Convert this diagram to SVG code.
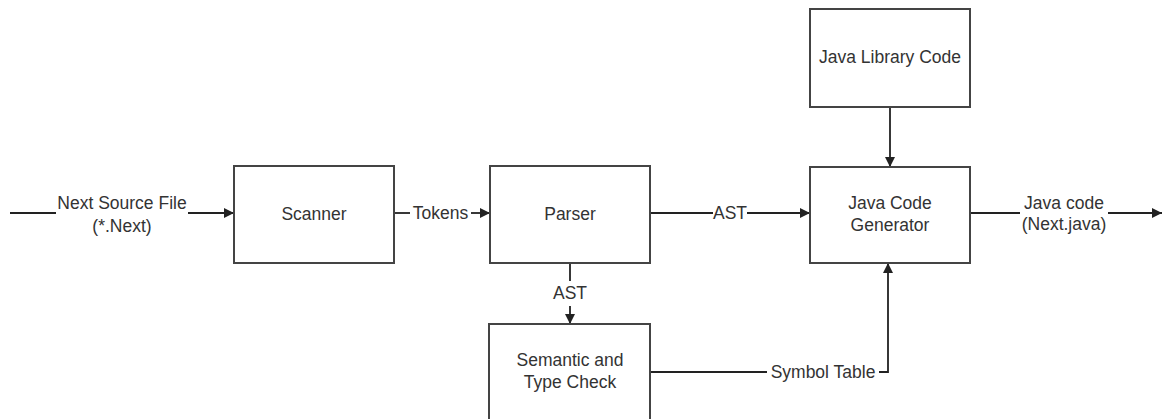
<svg xmlns="http://www.w3.org/2000/svg" width="1165" height="419" viewBox="0 0 1165 419">
<defs>
<marker id="ah" viewBox="0 0 10 10" refX="10" refY="5" markerWidth="11" markerHeight="10" markerUnits="userSpaceOnUse" orient="auto">
<path d="M0,0 L10,5 L0,10 Z" fill="#222"/>
</marker>
<style>
.box{fill:#fff;stroke:#444;stroke-width:2}
.t{font-family:"Liberation Sans",Arial,sans-serif;font-size:17.5px;fill:#333;text-anchor:middle}
.c{fill:none;stroke:#222;stroke-width:1.8}
.a{marker-end:url(#ah)}
</style>
</defs>
<rect width="1165" height="419" fill="#fff"/>
<g id="connectors">
<line class="c" x1="10" y1="213" x2="56" y2="213"/>
<line class="c a" x1="188" y1="213" x2="234" y2="213"/>
<text class="t" x="122" y="209">Next Source File</text>
<text class="t" x="122" y="232">(*.Next)</text>
<line class="c" x1="394" y1="213" x2="410" y2="213"/>
<line class="c a" x1="471" y1="213" x2="490" y2="213"/>
<text class="t" x="440.5" y="219">Tokens</text>
<line class="c" x1="650" y1="213" x2="713" y2="213"/>
<line class="c a" x1="747" y1="213" x2="810" y2="213"/>
<text class="t" x="730" y="219">AST</text>
<line class="c" x1="970" y1="213" x2="1020" y2="213"/>
<line class="c a" x1="1108" y1="213" x2="1162" y2="213"/>
<text class="t" x="1064" y="209">Java code</text>
<text class="t" x="1064" y="230">(Next.java)</text>
<line class="c a" x1="890" y1="107" x2="890" y2="167"/>
<line class="c" x1="570" y1="263" x2="570" y2="281"/>
<line class="c a" x1="570" y1="306" x2="570" y2="324"/>
<text class="t" x="570" y="299">AST</text>
<polyline class="c" points="650,372 767,372"/>
<polyline class="c a" points="879,372 888,372 888,263"/>
<text class="t" x="823" y="378">Symbol Table</text>
</g>
<g id="scanner">
<rect class="box" x="234" y="166" width="160" height="97"/>
<text class="t" x="314" y="220">Scanner</text>
</g>
<g id="parser">
<rect class="box" x="490" y="166" width="160" height="97"/>
<text class="t" x="570" y="220">Parser</text>
</g>
<g id="generator">
<rect class="box" x="810" y="167" width="160" height="96"/>
<text class="t" x="890" y="209">Java Code</text>
<text class="t" x="890" y="231">Generator</text>
</g>
<g id="library">
<rect class="box" x="810" y="9" width="160" height="98"/>
<text class="t" x="890" y="63">Java Library Code</text>
</g>
<g id="semantic">
<rect class="box" x="489" y="324" width="161" height="100"/>
<text class="t" x="570" y="366">Semantic and</text>
<text class="t" x="570" y="388">Type Check</text>
</g>
</svg>
